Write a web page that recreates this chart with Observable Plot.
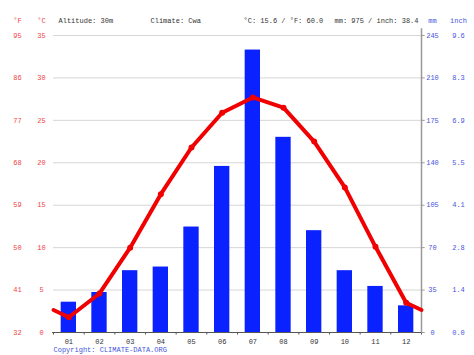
<!DOCTYPE html>
<html><head><meta charset="utf-8">
<script src="https://cdn.jsdelivr.net/npm/d3@7"></script>
<script src="https://cdn.jsdelivr.net/npm/@observablehq/plot@0.6"></script>
<style>body{margin:0;background:#fff}</style>
</head><body><div id="chart"></div>
<script>
const months = ["01","02","03","04","05","06","07","08","09","10","11","12"];
const tempC = [1.8,4.6,10.0,16.3,21.8,25.9,27.7,26.5,22.5,17.1,10.1,3.5];
const precipMm = [25,33,51,54,87,137,233,161,84,51,38,22];
const fTicks = [32,41,50,59,68,77,86,95];
const cTicks = [0,5,10,15,20,25,30,35];
const mmTicks = [0,35,70,105,140,175,210,245];
const inchTicks = ["0.0","1.4","2.8","4.1","5.5","6.9","8.3","9.6"];
const headerLeft = ["Altitude: 30m","Climate: Cwa","°C: 15.6 / °F: 60.0","mm: 975 / inch: 38.4"];
const copyright = "Copyright: CLIMATE-DATA.ORG";

const mmPerC = 245/35;
const data = months.map((m,i)=>({m:i+1, label:m, t:tempC[i], mm:precipMm[i]}));
const edge = (tempC[0]+tempC[11])/2;
const lineData = [{m:0.5,t:edge}, ...data, {m:12.5,t:edge}];
const bounds = d3.range(0.5, 12.6, 1);

const font = "Liberation Mono, DejaVu Sans Mono, monospace";
const fs = 7;
const red = "#ee4444", blue = "#4455dd", gray = "#333";
const txt = (o)=>({fontFamily:font, fontSize:fs, ...o});

const chart = Plot.plot({
  width:474, height:355,
  marginLeft:53, marginRight:53, marginTop:35, marginBottom:23,
  x:{domain:[0.5,12.5], axis:null},
  y:{domain:[0,35], axis:null},
  style:{background:"#fff"},
  marks:[
    Plot.ruleY(cTicks.slice(1), {stroke:"#d6d6d6", strokeWidth:1}),
    Plot.rectY(data, {x1:d=>d.m-0.25, x2:d=>d.m+0.25, y:d=>d.mm/mmPerC, fill:"#0a22ff", inset:0}),
    Plot.ruleY([0], {x1:0.47, x2:12.6, stroke:"#555"}),
    Plot.ruleX(bounds, {y1:0, y2:-0.3, stroke:"#555"}),
    Plot.ruleX([12.5], {y1:0, y2:35.8, stroke:"#999", strokeWidth:1.5}),
    Plot.ruleY(cTicks, {x1:12.5, x2:12.62, stroke:"#999"}),
    Plot.line(lineData, {x:"m", y:"t", stroke:"#f00000", strokeWidth:4, curve:"linear"}),
    Plot.dot(data, {x:"m", y:"t", r:3, fill:"#f00000"}),
    Plot.text(cTicks, txt({x:0.5, y:d=>d, text:d=>String(d), dx:-12, fill:red})),
    Plot.text(fTicks, txt({x:0.5, y:(d,i)=>cTicks[i], text:d=>String(d), dx:-36, fill:red})),
    Plot.text(mmTicks, txt({x:12.5, y:(d,i)=>cTicks[i], text:d=>String(d), dx:11, fill:blue})),
    Plot.text(inchTicks, txt({x:12.5, y:(d,i)=>cTicks[i], text:d=>d, dx:37, fill:blue})),
    Plot.text(["°F"], txt({x:0.5, y:35, dx:-36, dy:-15, fill:red})),
    Plot.text(["°C"], txt({x:0.5, y:35, dx:-12, dy:-15, fill:red})),
    Plot.text(["mm"], txt({x:12.5, y:35, dx:11, dy:-15, fill:blue})),
    Plot.text(["inch"], txt({x:12.5, y:35, dx:37, dy:-15, fill:blue})),
    Plot.text([headerLeft[0]], txt({x:0.5, y:35, dx:5, dy:-15, textAnchor:"start", fill:gray})),
    Plot.text([headerLeft[1]], txt({x:0.5, y:35, dx:97, dy:-15, textAnchor:"start", fill:gray})),
    Plot.text([headerLeft[2]], txt({x:0.5, y:35, dx:190, dy:-15, textAnchor:"start", fill:gray})),
    Plot.text([headerLeft[3]], txt({x:0.5, y:35, dx:281, dy:-15, textAnchor:"start", fill:gray})),
    Plot.text(data, txt({x:"m", y:0, text:"label", dy:9, fill:gray})),
    Plot.text([copyright], txt({x:0.5, y:0, dx:0, dy:17, textAnchor:"start", fill:blue}))
  ]
});
document.getElementById("chart").append(chart);
</script>
</body></html>
